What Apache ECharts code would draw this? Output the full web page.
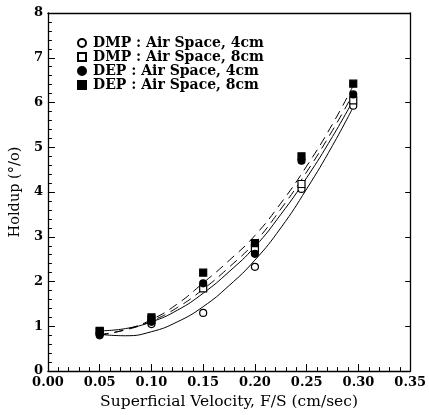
<!DOCTYPE html>
<html><head><meta charset="utf-8">
<script src="https://cdn.jsdelivr.net/npm/echarts@6/dist/echarts.min.js"></script>
<style>html,body{margin:0;padding:0;background:#fff}#c{width:429px;height:415px}</style>
</head><body><div id="c"></div>
<script>
// measured points
const dmp4X = [0.05, 0.10, 0.15, 0.20, 0.245, 0.295];
const dmp4Y = [0.85, 1.05, 1.30, 2.33, 4.07, 5.93];
const dmp8X = [0.05, 0.10, 0.15, 0.20, 0.245, 0.295];
const dmp8Y = [0.88, 1.15, 1.85, 2.75, 4.18, 6.05];
const dep4X = [0.05, 0.10, 0.15, 0.20, 0.245, 0.295];
const dep4Y = [0.80, 1.10, 1.96, 2.62, 4.70, 6.18];
const dep8X = [0.05, 0.10, 0.15, 0.20, 0.245, 0.295];
const dep8Y = [0.90, 1.20, 2.20, 2.86, 4.80, 6.42];
// fitted curves
const curveX = [0.05, 0.075, 0.10, 0.125, 0.15, 0.175, 0.20, 0.225, 0.25, 0.275, 0.295];
const fitDmp4 = [0.82, 0.79, 0.88, 1.10, 1.44, 1.91, 2.48, 3.20, 4.07, 5.04, 5.90];
const fitDmp8 = [0.90, 0.95, 1.10, 1.36, 1.74, 2.22, 2.78, 3.50, 4.32, 5.24, 6.05];
const fitDep4 = [0.82, 0.92, 1.12, 1.42, 1.83, 2.32, 2.88, 3.62, 4.45, 5.38, 6.20];
const fitDep8 = [0.80, 0.93, 1.15, 1.50, 1.97, 2.47, 3.03, 3.75, 4.58, 5.52, 6.38];
const xTicks = [0.00, 0.05, 0.10, 0.15, 0.20, 0.25, 0.30, 0.35];
const yTicks = [0, 1, 2, 3, 4, 5, 6, 7, 8];
const names = ['DMP : Air Space, 4cm', 'DMP : Air Space, 8cm', 'DEP : Air Space, 4cm', 'DEP : Air Space, 8cm'];

const FONT = 'DejaVu Serif';
const zip = (xs, ys) => xs.map((x, i) => [x, ys[i]]);
const chart = echarts.init(document.getElementById('c'), null, {renderer: 'canvas'});

function curve(data, dashed) {
  return {type: 'line', data: zip(curveX, data), smooth: true, showSymbol: false, silent: true,
    lineStyle: {color: '#000', width: 1, type: dashed ? [9, 6] : 'solid'}, z: 2};
}
function pts(name, xs, ys, symbol, filled) {
  return {type: 'scatter', name: name, data: zip(xs, ys), symbol: symbol, symbolSize: 7,
    itemStyle: {color: filled ? '#000' : '#fff', borderColor: '#000', borderWidth: 1.2, opacity: 1}, z: 5};
}
const axisCommon = {
  axisLine: {show: true, onZero: false, lineStyle: {color: '#000', width: 1.3}},
  splitLine: {show: false}
};
chart.setOption({
  animation: false,
  backgroundColor: '#fff',
  grid: {left: 46, right: 15, top: 13, bottom: 38, containLabel: false},
  legend: {
    data: names, orient: 'vertical', left: 72, top: 31, itemWidth: 8, itemHeight: 8, itemGap: 0,
    textStyle: {fontFamily: FONT, fontSize: 14, lineHeight: 13.5, fontWeight: 'bold', color: '#000', padding: [0, 0, 0, 2]},
    selectedMode: false
  },
  xAxis: [{
    type: 'value', min: 0, max: 0.35, interval: 0.05, ...axisCommon,
    axisTick: {show: true, inside: true, length: 7, lineStyle: {color: '#000'}},
    minorTick: {show: true, splitNumber: 5, length: 4, lineStyle: {color: '#000'}},
    axisLabel: {fontFamily: FONT, fontSize: 13, fontWeight: 'bold', color: '#000', margin: 5, formatter: v => v.toFixed(2)},
    name: 'Superficial Velocity, F/S (cm/sec)', nameLocation: 'middle', nameGap: 21,
    nameTextStyle: {fontFamily: FONT, fontSize: 15.5, color: '#000'}
  }, {
    type: 'value', position: 'top', min: 0, max: 0.35, interval: 0.05, ...axisCommon,
    axisTick: {show: false}, axisLabel: {show: false}
  }],
  yAxis: [{
    type: 'value', min: 0, max: 8, interval: 1, ...axisCommon,
    axisTick: {show: true, inside: true, length: 7, lineStyle: {color: '#000'}},
    minorTick: {show: true, splitNumber: 5, length: 4, lineStyle: {color: '#000'}},
    axisLabel: {fontFamily: FONT, fontSize: 13, fontWeight: 'bold', color: '#000', margin: 5},
    name: 'Holdup (°/o)', nameLocation: 'middle', nameGap: 21,
    nameTextStyle: {fontFamily: FONT, fontSize: 14.5, color: '#000'}
  }, {
    type: 'value', position: 'right', min: 0, max: 8, interval: 1, ...axisCommon,
    axisTick: {show: true, inside: true, length: 5, lineStyle: {color: '#000'}},
    axisLabel: {show: false}
  }],
  series: [
    curve(fitDmp4, false), curve(fitDmp8, false), curve(fitDep4, true), curve(fitDep8, true),
    pts(names[0], dmp4X, dmp4Y, 'circle', false),
    pts(names[1], dmp8X, dmp8Y, 'rect', false),
    pts(names[2], dep4X, dep4Y, 'circle', true),
    pts(names[3], dep8X, dep8Y, 'rect', true)
  ]
});
</script></body></html>
